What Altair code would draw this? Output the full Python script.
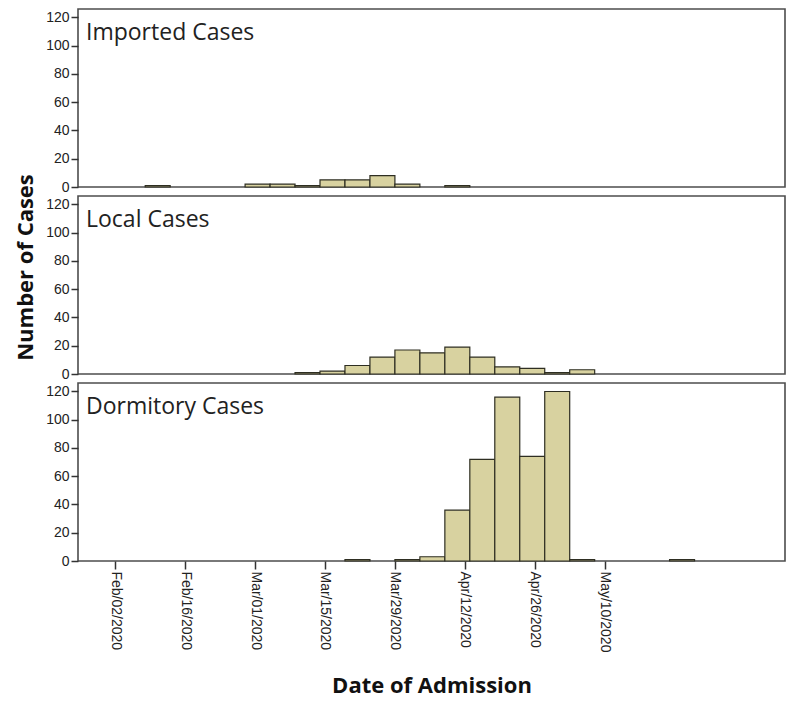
import altair as alt
import pandas as pd

# 5-day bins (start dates)
bin_starts = [
    "2020-02-08", "2020-02-13", "2020-02-18", "2020-02-23", "2020-02-28",
    "2020-03-04", "2020-03-09", "2020-03-14", "2020-03-19", "2020-03-24",
    "2020-03-29", "2020-04-03", "2020-04-08", "2020-04-13", "2020-04-18",
    "2020-04-23", "2020-04-28", "2020-05-03", "2020-05-08", "2020-05-13",
    "2020-05-18", "2020-05-23",
]
imported = [1, 0, 0, 0, 2, 2, 1, 5, 5, 8, 2, 0, 1, 0, 0, 0, 0, 0, 0, 0, 0, 0]
local = [0, 0, 0, 0, 0, 0, 1, 2, 6, 12, 17, 15, 19, 12, 5, 4, 1, 3, 0, 0, 0, 0]
dormitory = [0, 0, 0, 0, 0, 0, 0, 0, 1, 0, 1, 3, 36, 72, 116, 74, 120, 1, 0, 0, 0, 1]

panel_names = ["Imported Cases", "Local Cases", "Dormitory Cases"]
panel_counts = [imported, local, dormitory]

tick_dates = [(2, 2), (2, 16), (3, 1), (3, 15), (3, 29), (4, 12), (4, 26), (5, 10)]
y_ticks = [0, 20, 40, 60, 80, 100, 120]

BAR_FILL = "#d8d2a0"
BAR_STROKE = "#2e2e22"
TEXT_FONT = "Open Sans"
PANEL_H = 178
PANEL_W = 707

x_scale = alt.Scale(
    type="utc",
    domain=[
        alt.DateTime(year=2020, month=1, date=26, hours=13, utc=True),
        alt.DateTime(year=2020, month=6, date=14, hours=2, minutes=40, utc=True),
    ],
)


def make_panel(i, name, counts):
    df = pd.DataFrame({"start": bin_starts, "count": counts})
    df = df[df["count"] > 0]
    last = i == len(panel_names) - 1
    if last:
        x_axis = alt.Axis(
            values=[alt.DateTime(year=2020, month=m, date=d, utc=True) for m, d in tick_dates],
            format="%b/%d/%Y",
            labelAngle=90,
            labelAlign="left",
            labelBaseline="middle",
            labelPadding=2,
            tickSize=8,
            domain=False,
            grid=False,
            title="Date of Admission",
            titlePadding=24,
        )
    else:
        x_axis = None
    y_kwargs = dict(
        values=y_ticks,
        grid=False,
        domain=False,
        tickSize=7,
        labelPadding=2,
    )
    if i == 1:
        y_axis = alt.Axis(title="Number of Cases", titlePadding=8, titleY=PANEL_H / 2 - 18, **y_kwargs)
    else:
        y_axis = alt.Axis(title=None, **y_kwargs)
    bars = (
        alt.Chart(df)
        .transform_calculate(end="utcOffset('date', toDate(datum.start), 5)")
        .mark_bar(fill=BAR_FILL, stroke=BAR_STROKE, strokeWidth=1.2, orient="vertical")
        .encode(
            x=alt.X("start:T", scale=x_scale, axis=x_axis),
            x2="end:T",
            y=alt.Y("count:Q", scale=alt.Scale(domain=[0, 126], nice=False), axis=y_axis),
            y2=alt.datum(0),
        )
    )
    label = (
        alt.Chart(pd.DataFrame({"label": [name]}))
        .mark_text(align="left", baseline="alphabetic", font=TEXT_FONT, fontSize=23, color="#222222")
        .encode(x=alt.value(8), y=alt.value(31), text="label:N")
    )
    return alt.layer(bars, label).properties(width=PANEL_W, height=PANEL_H)


chart = (
    alt.vconcat(
        *[make_panel(i, n, c) for i, (n, c) in enumerate(zip(panel_names, panel_counts))],
        spacing=9,
        bounds="flush",
    )
    .properties(padding={"left": 5, "top": 0, "right": 0, "bottom": 0}, background="white")
    .configure_view(stroke="#4d4d4d", strokeWidth=1.6)
    .configure_axis(
        labelFont="Liberation Sans",
        labelFontSize=14,
        labelColor="#222222",
        tickColor="#333333",
        tickWidth=1.5,
        titleFont=TEXT_FONT,
        titleFontSize=22,
        titleFontWeight="bold",
        titleColor="#111111",
    )
)

chart.save("out.html", embed_options={"renderer": "svg", "actions": False})
